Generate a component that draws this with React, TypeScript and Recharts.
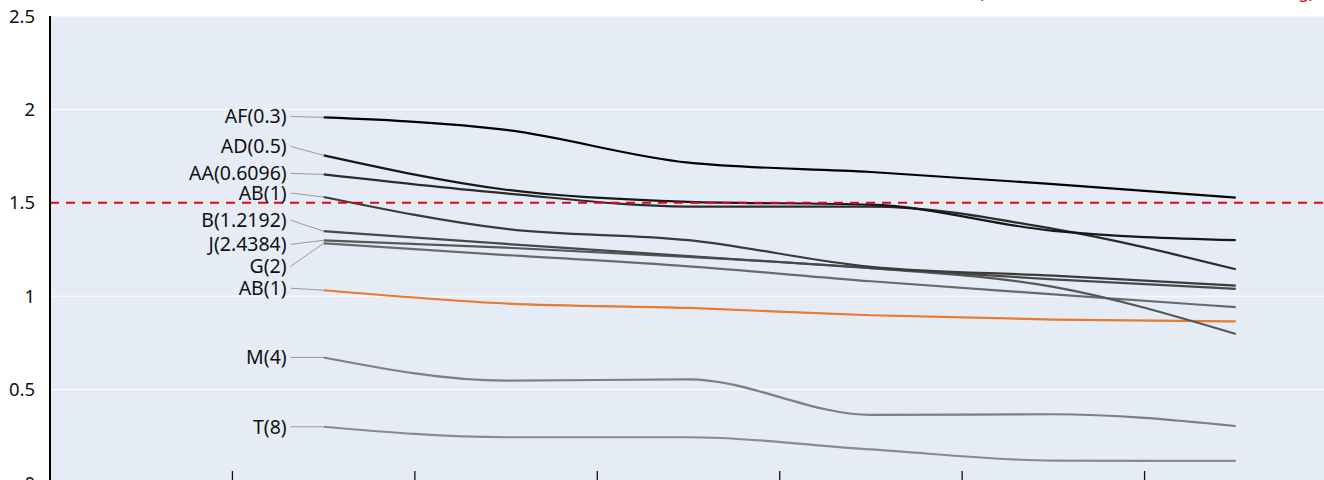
import React from "react";
import { LineChart, Line, XAxis, YAxis, CartesianGrid, ReferenceLine } from "recharts";

// six measuring steps; the first band of the x axis is left free for the labels
const steps = [1, 2, 3, 4, 5, 6];
const stepBounds = [0.5, 1.5, 2.5, 3.5, 4.5, 5.5];
const yTicks = [0, 0.5, 1, 1.5, 2, 2.5];
const limit = 1.5;

const afValues = [1.957, 1.89, 1.715, 1.665, 1.6, 1.528];
const adValues = [1.754, 1.57, 1.505, 1.49, 1.35, 1.3];
const aaValues = [1.652, 1.55, 1.48, 1.48, 1.36, 1.144];
const abValues = [1.531, 1.36, 1.3, 1.157, 1.11, 1.057];
const bValues = [1.348, 1.28, 1.215, 1.15, 1.09, 1.039];
const jValues = [1.299, 1.26, 1.21, 1.15, 1.05, 0.798];
const gValues = [1.283, 1.22, 1.16, 1.08, 1.01, 0.941];
const abOrangeValues = [1.032, 0.961, 0.937, 0.898, 0.875, 0.865];
const mValues = [0.672, 0.548, 0.555, 0.365, 0.368, 0.305];
const tValues = [0.301, 0.245, 0.245, 0.18, 0.12, 0.118];

const seriesNames: Record<string, string> = {
  af: "AF(0.3)",
  ad: "AD(0.5)",
  aa: "AA(0.6096)",
  ab: "AB(1)",
  b: "B(1.2192)",
  j: "J(2.4384)",
  g: "G(2)",
  abOrange: "AB(1)",
  m: "M(4)",
  t: "T(8)",
};

const seriesValues: Record<string, number[]> = {
  af: afValues,
  ad: adValues,
  aa: aaValues,
  ab: abValues,
  b: bValues,
  j: jValues,
  g: gValues,
  abOrange: abOrangeValues,
  m: mValues,
  t: tValues,
};

// colour and vertical nudge of the start label (px)
const lineStyles: Record<string, { color: string; labelDy: number }> = {
  t: { color: "#8a8a8a", labelDy: 0 },
  m: { color: "#7f7f7f", labelDy: 0 },
  abOrange: { color: "#e8792e", labelDy: -2 },
  g: { color: "#6a6a6a", labelDy: 23 },
  j: { color: "#575757", labelDy: 4 },
  b: { color: "#484848", labelDy: -11 },
  ab: { color: "#3a3a3a", labelDy: -4 },
  aa: { color: "#2c2c2c", labelDy: -1 },
  ad: { color: "#171717", labelDy: -9 },
  af: { color: "#000000", labelDy: -1 },
};

const data = steps.map((step, i) => {
  const row: Record<string, number> = { step };
  Object.keys(seriesValues).forEach((k) => {
    row[k] = seriesValues[k][i];
  });
  return row;
});

function startLabel(name: string, dy: number) {
  return (props: any) => {
    if (props.index !== 0) return <g />;
    const x = props.x ?? props.viewBox?.x;
    const y = props.y ?? props.viewBox?.y;
    return (
      <g>
        <line x1={x - 33} y1={y + dy} x2={x} y2={y} stroke="#9a9a9a" strokeWidth={1} />
        <text x={x - 37} y={y + dy} dy="0.35em" textAnchor="end" fontSize={19.5} fill="#111">
          {name}
        </text>
      </g>
    );
  };
}

export default function App() {
  return (
    <div
      style={{
        position: "absolute",
        left: 0,
        top: 0,
        width: 1324,
        height: 480,
        overflow: "hidden",
        background: "#fff",
        fontFamily: '"Noto Sans", sans-serif',
      }}
    >
      <LineChart width={1330} height={520} data={data} margin={{ top: 16, right: 3, left: 0, bottom: 37 }}>
        <CartesianGrid vertical={false} stroke="#ffffff" fill="#e5ecf6" fillOpacity={1} />
        <XAxis
          type="number"
          dataKey="step"
          domain={[-0.5, 6.5]}
          ticks={stepBounds}
          interval={0}
          mirror
          tickSize={12}
          tickLine={{ stroke: "#111", strokeWidth: 1.3 }}
          axisLine={false}
          tickFormatter={() => ""}
        />
        <YAxis
          domain={[0, 2.5]}
          ticks={yTicks}
          interval={0}
          width={50}
          axisLine={{ stroke: "#000", strokeWidth: 2 }}
          tickLine={false}
          tickSize={0}
          tickMargin={15}
          tick={{ fill: "#111", fontSize: 18.5 }}
        />
        {Object.keys(lineStyles).map((k) => (
          <Line
            key={k}
            dataKey={k}
            type="monotone"
            stroke={lineStyles[k].color}
            strokeWidth={2.2}
            dot={false}
            activeDot={false}
            isAnimationActive={false}
            label={startLabel(seriesNames[k], lineStyles[k].labelDy)}
          />
        ))}
        <ReferenceLine y={limit} stroke="#e8000b" strokeWidth={2} strokeDasharray="9 7" />
      </LineChart>
      <div
        style={{
          position: "absolute",
          right: 10,
          top: -18,
          color: "#e8000b",
          fontSize: 17.3,
          lineHeight: "20px",
          whiteSpace: "nowrap",
        }}
      >
        (red dashed line: reference limit 1.5 in kg)
      </div>
    </div>
  );
}
